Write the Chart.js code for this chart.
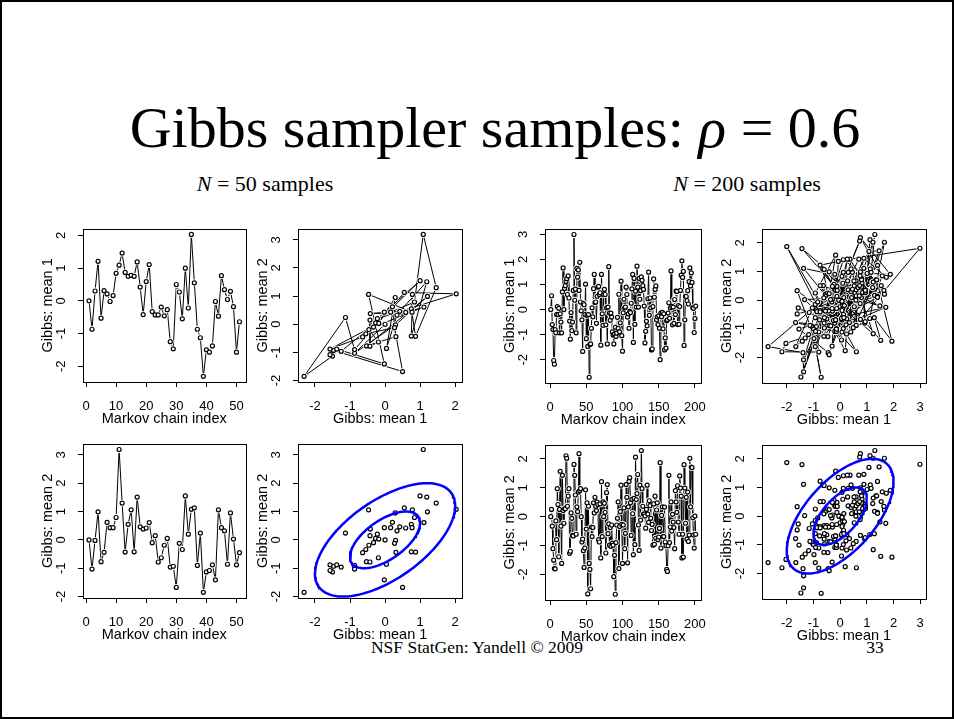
<!DOCTYPE html>
<html>
<head>
<meta charset="utf-8">
<script src="https://cdn.jsdelivr.net/npm/chart.js@4.4.0/dist/chart.umd.min.js"></script>
<style>
  body { margin: 0; background: #fff; width: 954px; height: 719px; position: relative; overflow: hidden; }
  .frame { position: absolute; left: 0; top: 0; width: 950px; height: 715px; border: 2px solid #000; }
  .txt { position: absolute; font-family: "Liberation Serif", "Times New Roman", serif; color: #000; white-space: nowrap; line-height: 1; }
  canvas { position: absolute; }
</style>
</head>
<body>
<div class="frame"></div>
<div class="txt" style="left:0; width:990px; text-align:center; top:99px; font-size:58px;">Gibbs sampler samples: <i>ρ</i> = 0.6</div>
<div class="txt" style="left:165px; width:200px; text-align:center; top:173px; font-size:22px;"><i>N</i> = 50 samples</div>
<div class="txt" style="left:647px; width:200px; text-align:center; top:173px; font-size:22px;"><i>N</i> = 200 samples</div>
<div class="txt" style="left:277px; width:400px; text-align:center; top:639px; font-size:17.5px;">NSF StatGen: Yandell © 2009</div>
<div class="txt" style="left:855px; width:40px; text-align:center; top:639px; font-size:17.5px;">33</div>

<script>
// ===================
// Data
// ===================

// N = 50 chain (51 values incl. start)
const mean1_50 = [0, -0.87, 0.30, 1.21, -0.53, 0.31, 0.21, -0.02, 0.16, 0.84,
  1.09, 1.46, 0.87, 0.75, 0.78, 0.75, 1.19, 0.42, -0.42, 0.59,
  1.11, -0.33, -0.43, -0.43, -0.19, -0.46, -0.27, -1.25, -1.47, 0.50,
  0.27, -0.55, 1.00, -0.22, 2.03, 0.55, -0.87, -1.13, -2.31, -1.50,
  -1.57, -1.38, -0.02, -0.47, 0.77, 0.34, 0.04, 0.29, -0.18, -1.57, -0.64];
const mean2_50 = [0, -1.03, -0.02, 0.99, -0.77, -0.44, 0.62, 0.43, 0.43, 0.79,
  3.19, 1.30, -0.43, 0.55, 1.06, -0.42, 1.51, 0.46, 0.38, 0.42,
  0.61, -0.10, 0.15, -0.78, -0.63, -0.19, 0.05, -0.96, -0.93, -1.68,
  -0.12, -0.34, 1.55, 0.20, 1.08, 1.13, -0.90, 0.24, -1.85, -1.13,
  -1.08, -0.88, -1.41, 1.06, 0.43, 0.32, -0.86, 0.95, 0.03, -0.88, -0.45];

// N = 200 chain (201 values incl. start)
const mean1_200 = [0, 0.55, -0.6, -0.8, -2.03, -2.18, -0.8, -0.93, -0.2, 0.12,
  -0.2, 0.05, -0.93, -0.17, -0.5, -0.93, 0.7, 1.66, 0, 0.84,
  0.95, 1.12, 1.23, 0.6, 1.34, 0.46, -0.46, -1.18, -0.12, -0.84,
  -0.5, 0.76, 2.99, 0.37, 0.81, -0.93, 1.64, 1.29, 1.58, 0.76,
  1.88, 0.3, -0.05, -0.41, -1.67, 0.24, 0.19, -0.2, 1.01, -1.16,
  -0.23, -1.47, -0.2, -2.7, -1.39, -1.37, -0.75, 0.07, -0.29, 0.83,
  1.4, 0.28, 0.3, -0.55, 0.53, 0.89, 0.92, 0.6, 0.67, -1.42,
  1.4, -0.17, -0.63, 0.59, 0.8, 0.6, -0.61, 0.07, -1.37, 0.1,
  1.71, -0.14, -0.43, -0.14, -0.3, -0.89, -1.01, -1.37, -0.98, -0.71,
  -1.07, -0.94, -0.31, -0.75, 0.61, -0.89, -0.53, 1.13, -1.04, -1.66,
  -0.13, 0.41, 0.07, 0.1, 0.89, 0.6, -0.3, -0.17, -0.75, -0.07,
  -0.12, 0.25, 0.82, 1.4, -1.31, 1.24, -0.59, 0.73, 0.1, 1.73,
  0.89, 0.1, 1.24, 0.41, 0.75, 1.3, 1.16, 0.95, 0.8, 0.14,
  -1.33, -0.87, -0.47, -0.65, 0.43, 1.49, -0.23, 0.46, 0.07, -1.61,
  -1.57, 0.12, 1.22, 0.49, 0.8, 0.94, -0.41, -0.29, -0.6, -0.25,
  -0.75, -2.0, -0.14, -0.29, -0.11, -0.77, -0.17, -1.61, -1.13, -1.54,
  -0.45, -0.41, -0.14, 0.27, -0.35, 0.07, 1.54, 0.13, -0.61, 0.1,
  -0.55, 0.4, -0.2, 0.73, 0.72, -0.6, 0.16, -0.59, 0.12, 0.76,
  1.37, 1.94, 1.28, 1.52, -1.43, -0.41, 0.53, 0.52, 0.35, 0.75,
  0.22, 1.11, 1.66, 0.94, 1.46, 1.08, 0.07, 0.05, -0.92, -0.36, 0.14];
const mean2_200 = [0, 0.25, -0.33, -1.11, -1.51, -1.8, -1.81, -0.15, -0.8, 0.97,
  0.42, -1.39, 0.25, 1.57, -0.33, -1.62, 1.43, 0.21, -0.23, 0.27,
  0.27, 2.11, 2.02, 0.36, 0.71, 0.97, -1.27, -1.2, 0.13, -0.06,
  -0.65, -0.67, 1.81, 1.43, 0.75, -0.61, 0.34, 0.17, 0.85, 2.18,
  0.9, 0.97, 0, -0.88, -0.78, -1.18, -1.76, -1.09, 0.93, -0.43,
  0.48, -2.68, 0.36, -1.62, -1.83, -2.5, -0.36, -0.69, -0.38, 0.48,
  0.13, 0.67, 0.36, 0.21, 0.5, 0.42, -0.8, -0.88, 0.44, -1.43,
  1.21, -0.69, 0.51, 0, 0.46, 0.15, -1.26, 0.83, 1.11, -0.59,
  -0.25, -0.99, -0.38, -1.03, -0.29, -0.92, -0.99, -2.08, -1.34, -2.69,
  -0.9, -0.29, -0.06, 0.51, -1.8, -0.34, 0.17, 1.09, -0.27, -1.62,
  -0.29, 0.3, -1.11, -0.58, 1.11, 0.67, -1.6, 0.34, 1.22, 1.35,
  0.48, -0.65, 0.6, 0.1, -1.32, 0.63, -0.97, 2.06, 0.59, 0.8,
  1.46, -0.29, -1.17, 1.09, -0.12, 2.29, 0.97, 0.36, 0.09, 0.09,
  0.02, -0.4, 0.25, 1.09, 0.09, -0.2, 0.55, 0.38, -0.06, -0.48,
  -0.27, -0.99, 0.44, -0.96, 0.71, -0.75, 0.23, 0.48, -0.8, -0.71,
  -0.41, 1.87, -1.09, 0.04, 0.34, -0.69, -0.69, 0.33, -0.88, -1.01,
  -1.83, -1.9, -1.01, 1.43, -0.9, -0.36, 0.51, -0.5, 0.08, -0.19,
  -0.38, -1.11, 0.9, 0.51, 0.15, 1.07, -0.19, -0.61, 1.41, 0.99,
  0.71, -1.43, -0.61, -1.4, 1.8, 0.99, -0.23, 0.67, -0.78, 0.85,
  -0.86, -0.64, 2.02, 0.34, 1.72, 1.7, -0.04, -0.64, -1.09, 0.02, -0.61];

// correlation and contour levels (sd units) for the ellipses
const rho = 0.6;
const ellipseLevels = [1, 2];

// tick labels
const indexTicks50 = [0, 10, 20, 30, 40, 50];
const indexTicks200 = [0, 50, 100, 150, 200];
const ticksM1_50 = [-2, -1, 0, 1, 2];
const ticksM2_50 = [-2, -1, 0, 1, 2, 3];
const ticksM1_200 = [-2, -1, 0, 1, 2, 3];
const ticksM2_200 = [-2, -1, 0, 1, 2];

// ===================
// Helpers
// ===================

// R style axis limits: range + 4% each side
function rLim(arr) {
	const lo = Math.min(...arr), hi = Math.max(...arr);
	const d = (hi - lo) * 0.04;
	return [lo - d, hi + d];
}

function trace(vals) {
	return vals.map((v, i) => ({ x: i + 1, y: v }));
}

function pairs(a, b) {
	return a.map((v, i) => ({ x: v, y: b[i] }));
}

function ellipse(r) {
	const pts = [];
	for (let k = 0; k <= 144; k++) {
		const t = 2 * Math.PI * k / 144;
		const u = r * Math.sqrt(1 + rho) * Math.cos(t);
		const v = r * Math.sqrt(1 - rho) * Math.sin(t);
		pts.push({ x: (u - v) / Math.SQRT2, y: (u + v) / Math.SQRT2 });
	}
	return pts;
}

const boxPlugin = {
	id: 'box',
	afterDraw(chart) {
		const a = chart.chartArea, c = chart.ctx;
		c.save();
		c.strokeStyle = '#000';
		c.lineWidth = 1;
		c.strokeRect(Math.round(a.left) + 0.5, Math.round(a.top) + 0.5, Math.round(a.right - a.left), Math.round(a.bottom - a.top));
		c.restore();
	}
};

const AXW = 44, AXH = 46, PT = 4, PR = 3;
const tickFont = { family: 'Liberation Sans', size: 13 };
const titleFont = { family: 'Liberation Sans', size: 14.5, lineHeight: 1 };

function axis(lim, tickVals, title, isY) {
	return {
		type: 'linear',
		min: lim[0], max: lim[1],
		afterBuildTicks: s => { s.ticks = tickVals.map(v => ({ value: v })); },
		afterFit: s => { if (isY) s.width = AXW; else s.height = AXH; },
		grid: { display: true, drawOnChartArea: false, drawTicks: true, tickLength: 5, color: '#000', lineWidth: 1 },
		border: { display: false },
		ticks: isY
			? { font: tickFont, color: '#000', padding: 11, minRotation: 90, maxRotation: 90, crossAlign: 'center', autoSkip: false }
			: { font: tickFont, color: '#000', padding: 12, maxRotation: 0, autoSkip: false },
		title: { display: true, text: title, font: titleFont, color: '#000',
			padding: isY ? { top: 2, bottom: 0 } : { top: 0, bottom: 2 } }
	};
}

function panel(box, xLim, yLim, xTicks, yTicks, xTitle, yTitle, datasets) {
	const cv = document.createElement('canvas');
	const w = box[2] - box[0] + AXW + PR, h = box[3] - box[1] + AXH + PT;
	cv.width = w; cv.height = h;
	cv.style.left = (box[0] - AXW) + 'px';
	cv.style.top = (box[1] - PT) + 'px';
	document.body.appendChild(cv);
	new Chart(cv.getContext('2d'), {
		type: 'scatter',
		data: { datasets: datasets },
		options: {
			responsive: false,
			animation: false,
			layout: { padding: { top: PT, right: PR, left: 0, bottom: 0 } },
			plugins: { legend: { display: false }, tooltip: { enabled: false } },
			scales: {
				x: axis(xLim, xTicks, xTitle, false),
				y: axis(yLim, yTicks, yTitle, true)
			}
		},
		plugins: [boxPlugin]
	});
}

// open circles
function pointSet(data) {
	return {
		data: data,
		showLine: false,
		pointRadius: 2,
		pointBorderWidth: 1.2,
		pointBorderColor: '#000',
		pointBackgroundColor: '#fff'
	};
}

// like R type = "b": line, white halo round each point, then the circles
// (dataset 0 is drawn last, so the order is top -> bottom)
function pathSets(data) {
	return [
		pointSet(data),
		{ data: data, showLine: false, pointRadius: 3.4, pointBorderWidth: 0, pointBackgroundColor: '#fff', pointBorderColor: '#fff' },
		{ data: data, showLine: true, borderColor: '#000', borderWidth: 1, pointRadius: 0 }
	];
}

function ellipseSets() {
	return ellipseLevels.map(r => ({
		data: ellipse(r),
		showLine: true,
		borderColor: '#0000ff',
		borderWidth: 2.5,
		pointRadius: 0
	}));
}

const idx50 = rLim([1, mean1_50.length]);
const idx200 = rLim([1, mean1_200.length]);

// ===================
// Panels
// ===================

// row 1
panel([83, 214, 253, 382], idx50, rLim(mean1_50), indexTicks50, ticksM1_50,
	'Markov chain index', 'Gibbs: mean 1', pathSets(trace(mean1_50)));
panel([298, 214, 468, 382], rLim(mean1_50), rLim(mean2_50), ticksM1_50, ticksM2_50,
	'Gibbs: mean 1', 'Gibbs: mean 2', pathSets(pairs(mean1_50, mean2_50)));
panel([545, 214, 715, 383], idx200, rLim(mean1_200), indexTicks200, ticksM1_200,
	'Markov chain index', 'Gibbs: mean 1', pathSets(trace(mean1_200)));
panel([762, 214, 933, 383], rLim(mean1_200), rLim(mean2_200), ticksM1_200, ticksM2_200,
	'Gibbs: mean 1', 'Gibbs: mean 2', pathSets(pairs(mean1_200, mean2_200)));

// row 2
panel([83, 429, 253, 598], idx50, rLim(mean2_50), indexTicks50, ticksM2_50,
	'Markov chain index', 'Gibbs: mean 2', pathSets(trace(mean2_50)));
panel([298, 429, 468, 598], rLim(mean1_50), rLim(mean2_50), ticksM1_50, ticksM2_50,
	'Gibbs: mean 1', 'Gibbs: mean 2', ellipseSets().concat([pointSet(pairs(mean1_50, mean2_50))]));
panel([545, 430, 715, 600], idx200, rLim(mean2_200), indexTicks200, ticksM2_200,
	'Markov chain index', 'Gibbs: mean 2', pathSets(trace(mean2_200)));
panel([762, 430, 933, 599], rLim(mean1_200), rLim(mean2_200), ticksM1_200, ticksM2_200,
	'Gibbs: mean 1', 'Gibbs: mean 2', ellipseSets().concat([pointSet(pairs(mean1_200, mean2_200))]));
</script>
</body>
</html>
